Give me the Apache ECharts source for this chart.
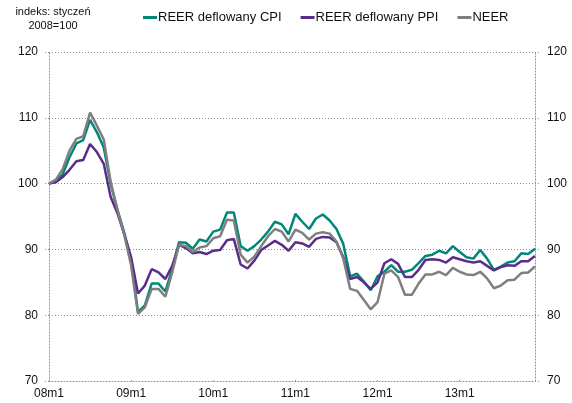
<!DOCTYPE html>
<html>
<head>
<meta charset="utf-8">
<script src="https://cdn.jsdelivr.net/npm/echarts@6/dist/echarts.min.js"></script>
<style>
  html, body { margin: 0; padding: 0; background: #fff; }
  #chart { width: 572px; height: 403px; }
</style>
</head>
<body>
<div id="chart"></div>
<script>
// monthly index, January 2008 = 100
var years = [8, 9, 10, 11, 12, 13];

var reerCpi = [
    100, 100.4, 101.4, 104, 106.1, 106.6, 109.7, 107.8, 105.5, 100, 96, 92.5,
    88.3, 80.5, 81.5, 84.8, 84.8, 83.6, 87, 91.1, 91, 90.1, 91.5, 91.2,
    92.7, 93, 95.6, 95.6, 90.5, 89.8, 90.5, 91.5, 92.7, 94.2, 93.8, 92.3,
    95.4, 94.2, 93.1, 94.7, 95.3, 94.4, 93.1, 90.8, 85.9, 86.3, 85.1, 83.8,
    85.9, 86.6, 87.6, 86.6, 86.6, 86.9, 87.9, 89, 89.2, 89.8, 89.4, 90.5,
    89.6, 88.8, 88.6, 89.9, 88.6, 86.9, 87.4, 88, 88.2, 89.4, 89.3, 90.1
];

var reerPpi = [
    100, 100.2, 101, 102.1, 103.4, 103.6, 106, 104.8, 103, 98, 95.5, 92.3,
    88.8, 83.3, 84.5, 87, 86.5, 85.5, 87.5, 90.7, 90.2, 89.4, 89.6, 89.3,
    89.8, 89.9, 91.4, 91.6, 87.7, 87.1, 88.3, 89.9, 90.6, 91.3, 90.7, 89.8,
    91.1, 90.9, 90.4, 91.6, 91.9, 91.8, 91.1, 88.8, 85.5, 85.8, 85, 84,
    85, 87.9, 88.5, 87.8, 85.8, 85.8, 86.9, 88.4, 88.5, 88.4, 88, 88.8,
    88.5, 88.2, 88, 88.2, 87.5, 86.8, 87.3, 87.6, 87.5, 88.2, 88.2, 89
];

var neer = [
    100, 100.6, 102.2, 105, 106.8, 107.2, 110.8, 108.8, 106.7, 100.3, 96, 92.2,
    87.5, 80.2, 81.2, 84, 84, 82.8, 86.5, 90.7, 90.5, 89.6, 90.3, 90.5,
    91.7, 92, 94.5, 94.4, 89.2, 88, 88.9, 90.5, 92, 93.1, 92.7, 91.2,
    93, 92.5, 91.5, 92.4, 92.6, 92.4, 91.2, 88.6, 84, 83.7, 82.3, 80.9,
    82, 86.3, 86.8, 85.8, 83.1, 83.1, 84.8, 86.2, 86.2, 86.6, 86.1, 87.2,
    86.6, 86.2, 86.1, 86.6, 85.6, 84.1, 84.5, 85.3, 85.4, 86.4, 86.5, 87.4
];

var seriesNames = ['REER deflowany CPI', 'REER deflowany PPI', 'NEER'];
var seriesColors = ['#00877a', '#5c2d88', '#7f7f7f'];

var months = [];
for (var y = 0; y < years.length; y++) {
    for (var m = 1; m <= 12; m++) {
        months.push((years[y] < 10 ? '0' : '') + years[y] + 'm' + m);
    }
}

var myChart = echarts.init(document.getElementById('chart'));

var dotted = { color: '#8c8c8c', type: [1, 2], width: 1 };
var font = 'Liberation Sans, Arial, sans-serif';

function yAxisDef(pos) {
    return {
        type: 'value',
        position: pos,
        min: 70,
        max: 120,
        interval: 10,
        axisLine: { show: true, lineStyle: dotted },
        axisTick: { show: true, length: 5, lineStyle: dotted },
        axisLabel: { color: '#111', fontSize: 12, fontFamily: font, margin: pos === 'left' ? 11 : 12 },
        splitLine: { show: pos === 'left', lineStyle: dotted }
    };
}

var option = {
    animation: false,
    color: seriesColors,
    textStyle: { fontFamily: font },
    graphic: [{
        type: 'text',
        x: 53,
        y: 5,
        style: {
            text: 'indeks: styczeń\n2008=100',
            fontSize: 11,
            fontFamily: font,
            fill: '#111',
            align: 'center',
            lineHeight: 14
        }
    }],
    legend: {
        data: seriesNames,
        left: 138,
        top: 6,
        itemWidth: 14,
        itemHeight: 3,
        itemGap: 19,
        icon: 'rect',
        textStyle: { fontSize: 13, fontFamily: font, color: '#111', padding: [0, 0, 0, -4] }
    },
    grid: { left: 49, right: 37, top: 52, bottom: 22 },
    xAxis: {
        type: 'category',
        data: months,
        boundaryGap: false,
        axisLine: { show: true, lineStyle: dotted },
        axisTick: { show: true, interval: 11, length: 3, inside: true, lineStyle: dotted },
        axisLabel: { interval: 11, color: '#111', fontSize: 12, fontFamily: font, margin: 7 },
        splitLine: { show: false }
    },
    yAxis: [yAxisDef('left'), yAxisDef('right')],
    series: [
        { name: seriesNames[0], type: 'line', data: reerCpi, showSymbol: false, lineStyle: { width: 2.5 } },
        { name: seriesNames[1], type: 'line', data: reerPpi, showSymbol: false, lineStyle: { width: 2.5 } },
        { name: seriesNames[2], type: 'line', data: neer, showSymbol: false, lineStyle: { width: 2.5 } }
    ]
};

myChart.setOption(option);
</script>
</body>
</html>
